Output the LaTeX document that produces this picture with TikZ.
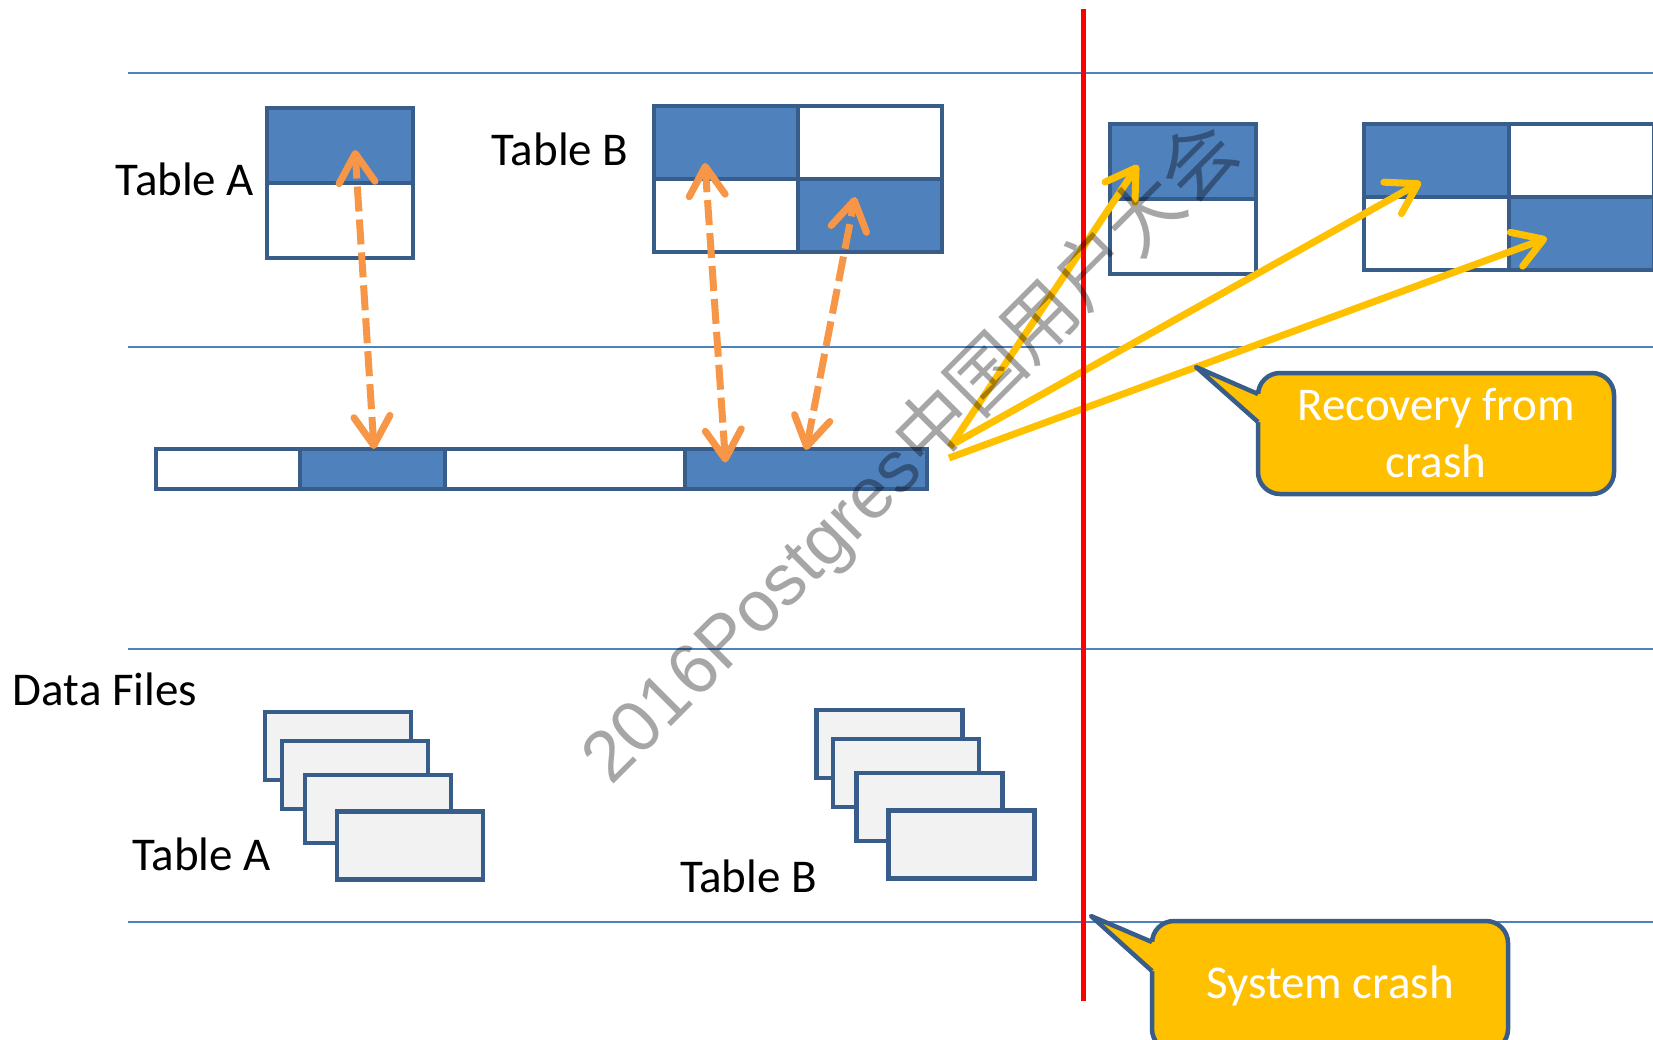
\documentclass[tikz,border=0pt]{standalone}
\usepackage{fontspec}
\setmainfont{Carlito}
\newfontfamily\wmlatin{Liberation Sans}
\newfontfamily\wmcjk{Noto Sans CJK SC}
\usetikzlibrary{arrows.meta}

\definecolor{cellblue}{HTML}{4F81BD}
\definecolor{edgeblue}{HTML}{385D8A}
\definecolor{ruleblue}{HTML}{4F81BD}
\definecolor{linkorange}{HTML}{F79646}
\definecolor{recyellow}{HTML}{FFC000}
\definecolor{filegray}{HTML}{F2F2F2}
\definecolor{crashred}{HTML}{FF0000}
\definecolor{wmgray}{HTML}{A6A6A6}

\tikzset{
  cellbase/.style 2 args={draw=edgeblue, line width=4.5pt, inner sep=0pt, outer sep=0pt,
    minimum width=#1pt, minimum height=#2pt},
  fullcell/.style 2 args={cellbase={#1}{#2}, fill=cellblue},
  emptycell/.style 2 args={cellbase={#1}{#2}, fill=white},
  datafile/.style={cellbase={146}{68}, fill=filegray},
  lane/.style={draw=ruleblue, line width=2pt},
  caption/.style={anchor=base, inner sep=0pt, font=\fontsize{47pt}{57pt}\selectfont},
  sync/.style={draw=linkorange, line width=7pt, dash pattern=on 25pt off 8pt,
    {Straight Barb[length=29pt,width=36pt,round]}-{Straight Barb[length=29pt,width=36pt,round]}},
  replay/.style={draw=recyellow, line width=7pt, line cap=butt,
    -{Straight Barb[length=29pt,width=36pt,round]}},
  bubble/.style={draw=edgeblue, fill=recyellow, line width=4.5pt, rounded corners=22pt,
    text=white, align=center, inner sep=0pt, minimum width=356pt,
    font=\fontsize{47pt}{57pt}\selectfont},
  bubbletail/.style={draw=edgeblue, line width=4.5pt, line join=round},
}

\begin{document}
\begin{tikzpicture}[x=1pt, y=-1pt]
  \useasboundingbox (0,0) rectangle (1653,1039);
  \clip (0,0) rectangle (1653,1039);
  \fill[white] (0,0) rectangle (1653,1039);

  % swim-lane rules
  \draw[lane] (128,73) -- (1653,73);
  \draw[lane] (128,347) -- (1653,347);
  \draw[lane] (128,649) -- (1653,649);
  \draw[lane] (128,922) -- (1653,922);

  % shared buffers, Table A
  \node[fullcell={146}{75}]  (ta1) at (340,145.5) {};
  \node[emptycell={146}{75}] (ta2) at (340,220.5) {};
  \node[caption] (lblTA) at (185,195) {Table A};

  % shared buffers, Table B
  \node[fullcell={144}{73}]  (tb11) at (726,142.5) {};
  \node[emptycell={144}{73}] (tb12) at (870,142.5) {};
  \node[emptycell={144}{73}] (tb21) at (726,215.5) {};
  \node[fullcell={144}{73}]  (tb22) at (870,215.5) {};
  \node[caption] (lblTB) at (560,165) {Table B};

  % WAL buffer
  \node[emptycell={144}{40}] (w1) at (228,469) {};
  \node[fullcell={145}{40}]  (w2) at (372.5,469) {};
  \node[emptycell={240}{40}] (w3) at (565,469) {};
  \node[fullcell={242}{40}]  (w4) at (806,469) {};

  % data files, Table A
  \node[datafile] (fa1) at (338,746) {};
  \node[datafile] (fa2) at (355,775) {};
  \node[datafile] (fa3) at (378,809) {};
  \node[datafile] (fa4) at (410,845.5) {};
  % data files, Table B
  \node[datafile] (fb1) at (889.5,744) {};
  \node[datafile] (fb2) at (906,773) {};
  \node[datafile] (fb3) at (929.5,807) {};
  \node[datafile] (fb4) at (961.5,844.5) {};

  \node[caption] (lblData) at (105,705) {Data Files};
  \node[caption] (lblFA) at (201.5,870) {Table A};
  \node[caption] (lblFB) at (748.5,892) {Table B};

  % buffers after recovery
  \node[fullcell={146}{75}]  (ra1) at (1183,161.5) {};
  \node[emptycell={146}{75}] (ra2) at (1183,236.5) {};
  \node[fullcell={145}{73}]  (rb11) at (1436.5,160.5) {};
  \node[emptycell={145}{73}] (rb12) at (1581.5,160.5) {};
  \node[emptycell={145}{73}] (rb21) at (1436.5,233.5) {};
  \node[fullcell={145}{73}]  (rb22) at (1581.5,233.5) {};

  % end points of the buffer <-> WAL links
  \coordinate (pTA)  at (355,150);
  \coordinate (pWA)  at (374,449);
  \coordinate (pTB1) at (705,163);
  \coordinate (pWB1) at (725.5,462.5);
  \coordinate (pTB2) at (855,197);
  \coordinate (pWB2) at (806,450);

  \draw[sync] (pWA) -- (pTA);
  \draw[sync] (pWB1) -- (pTB1);
  \draw[sync] (pWB2) -- (pTB2);

  % replay from the WAL after the crash
  \coordinate (src1) at (950,447);
  \coordinate (src2) at (955,443);
  \coordinate (src3) at (949,458);
  \coordinate (dstA)  at (1138,165);
  \coordinate (dstB1) at (1421,182);
  \coordinate (dstB2) at (1547,238);

  \draw[replay] (src1) -- (dstA);
  \draw[replay] (src2) -- (dstB1);
  \draw[replay] (src3) -- (dstB2);

  % moment of the crash
  \coordinate (crashTop) at (1083.5,9);
  \coordinate (crashBot) at (1083.5,1001);
  \draw[draw=crashred, line width=4.5pt] (crashTop) -- (crashBot);

  % callout: recovery
  \node[bubble, minimum height=121pt] (recov) at (1436,433.5) {Recovery from\\crash};
  \coordinate (recTip) at (1196,367);
  \coordinate (recUp)  at (1258,394);
  \coordinate (recLo)  at (1258,422);
  \fill[recyellow] (recTip) -- (recUp) -- ([xshift=6pt]recUp) -- ([xshift=6pt]recLo) -- (recLo) -- cycle;
  \draw[bubbletail] (recUp) -- (recTip) -- (recLo);

  % callout: crash
  \node[bubble, minimum height=130pt] (crash) at (1330,986) {System crash};
  \coordinate (crTip) at (1091,916);
  \coordinate (crUp)  at (1152,942);
  \coordinate (crLo)  at (1152,971);
  \fill[recyellow] (crTip) -- (crUp) -- ([xshift=6pt]crUp) -- ([xshift=6pt]crLo) -- (crLo) -- cycle;
  \draw[bubbletail] (crUp) -- (crTip) -- (crLo);

  % watermark
  \begin{scope}[blend mode=multiply]
    \node[rotate=45, anchor=base west, inner sep=0pt, text=wmgray] (wm) at (611,787)
      {{\wmlatin\fontsize{72pt}{80pt}\selectfont 2016Postgres}{\wmcjk\fontsize{75pt}{80pt}\selectfont 中国用户大会}};
  \end{scope}
\end{tikzpicture}
\end{document}
